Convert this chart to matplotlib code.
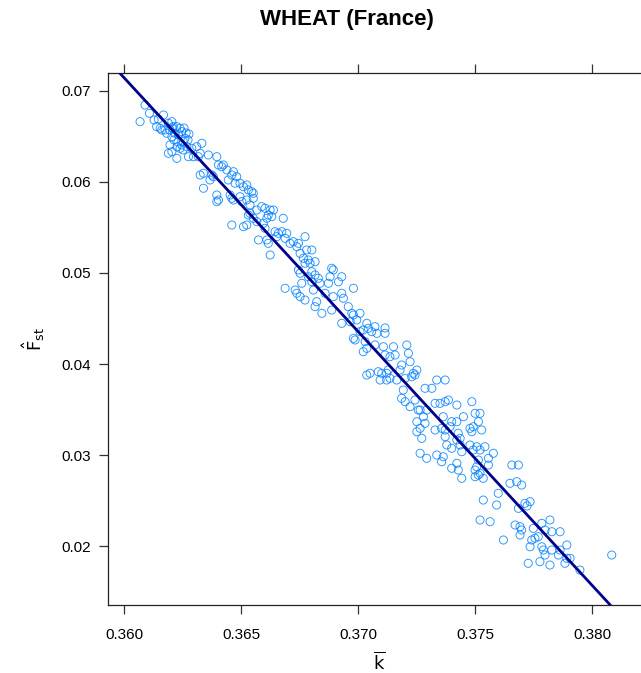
import matplotlib
matplotlib.use("Agg")
import matplotlib.pyplot as plt
import numpy as np

plt.rcParams['font.family'] = ['Liberation Sans', 'DejaVu Sans']

title = "WHEAT (France)"
x_label = r"$\overline{\mathrm{k}}$"
y_label = r"$\hat{\mathrm{F}}_{\mathrm{st}}$"

x_ticks = [0.360, 0.365, 0.370, 0.375, 0.380]
x_ticklabels = ["0.360", "0.365", "0.370", "0.375", "0.380"]
y_ticks = [0.02, 0.03, 0.04, 0.05, 0.06, 0.07]
y_ticklabels = ["0.02", "0.03", "0.04", "0.05", "0.06", "0.07"]

# fitted line F = a + b * k
line_intercept = 1.07517
line_slope = -2.7882

k_bar = [
    0.36088, 0.36067, 0.36107, 0.36127, 0.36145, 0.36167, 0.36138, 0.36153, 0.36160, 0.36188,
    0.36203, 0.36209, 0.36195, 0.36224, 0.36238, 0.36245, 0.36231, 0.36217, 0.36203, 0.36181,
    0.36174, 0.36195, 0.36203, 0.36188, 0.36224, 0.36238, 0.36252, 0.36259, 0.36245, 0.36267,
    0.36274, 0.36212, 0.36229, 0.36251, 0.36264, 0.36272, 0.36225, 0.36204, 0.36255, 0.36276,
    0.36288, 0.36309, 0.36331, 0.36324, 0.36316, 0.36295, 0.36359, 0.36395, 0.36402, 0.36416,
    0.36423, 0.36338, 0.36324, 0.36374, 0.36380, 0.36366, 0.36438, 0.36466, 0.36459, 0.36444,
    0.36480, 0.36494, 0.36473, 0.36509, 0.36523, 0.36530, 0.36338, 0.36395, 0.36402, 0.36395,
    0.36452, 0.36459, 0.36466, 0.36494, 0.36502, 0.36523, 0.36530, 0.36523, 0.36509, 0.36459,
    0.36544, 0.36551, 0.36551, 0.36537, 0.36537, 0.36566, 0.36587, 0.36601, 0.36623, 0.36637,
    0.36615, 0.36609, 0.36630, 0.36679, 0.36551, 0.36566, 0.36594, 0.36601, 0.36573, 0.36609,
    0.36615, 0.36623, 0.36644, 0.36658, 0.36673, 0.36694, 0.36651, 0.36687, 0.36708, 0.36722,
    0.36744, 0.36772, 0.36737, 0.36751, 0.36779, 0.36801, 0.36765, 0.36786, 0.36772, 0.36794,
    0.36815, 0.36744, 0.36751, 0.36801, 0.36786, 0.36815, 0.36829, 0.36886, 0.36893, 0.36879,
    0.36929, 0.36758, 0.36687, 0.36730, 0.36737, 0.36751, 0.36772, 0.36801, 0.36836, 0.36872,
    0.36915, 0.36808, 0.36858, 0.36893, 0.36929, 0.36936, 0.36822, 0.36815, 0.36844, 0.36886,
    0.36979, 0.36957, 0.36972, 0.36979, 0.37007, 0.36929, 0.36965, 0.36993, 0.37036, 0.37043,
    0.37007, 0.37021, 0.36979, 0.36986, 0.37029, 0.37036, 0.37021, 0.37036, 0.37071, 0.37114,
    0.37057, 0.37079, 0.37114, 0.37071, 0.37107, 0.37150, 0.37207, 0.37214, 0.37114, 0.37135,
    0.37157, 0.37221, 0.37085, 0.37100, 0.37121, 0.37128, 0.37093, 0.37121, 0.37185, 0.37178,
    0.37250, 0.37235, 0.37242, 0.37228, 0.37200, 0.37050, 0.37192, 0.37185, 0.37200, 0.37221,
    0.37242, 0.37256, 0.37250, 0.37264, 0.37250, 0.37164, 0.37135, 0.37335, 0.37371, 0.37285,
    0.37314, 0.37328, 0.37349, 0.37371, 0.37385, 0.37421, 0.37485, 0.37264, 0.37292, 0.37278,
    0.37285, 0.37271, 0.37328, 0.37363, 0.37356, 0.37371, 0.37392, 0.37399, 0.37421, 0.37427,
    0.37449, 0.37371, 0.37378, 0.37399, 0.37435, 0.37442, 0.37421, 0.37435, 0.37477, 0.37485,
    0.37491, 0.37499, 0.37513, 0.37477, 0.37491, 0.37506, 0.37513, 0.37506, 0.37499, 0.37513,
    0.37335, 0.37363, 0.37356, 0.37292, 0.37264, 0.37399, 0.37421, 0.37427, 0.37442, 0.37499,
    0.37541, 0.37520, 0.37577, 0.37556, 0.37556, 0.37520, 0.37534, 0.37656, 0.37684, 0.37648,
    0.37677, 0.37698, 0.37598, 0.37591, 0.37534, 0.37520, 0.37563, 0.37684, 0.37712, 0.37734,
    0.37721, 0.37784, 0.37819, 0.37670, 0.37691, 0.37698, 0.37691, 0.37748, 0.37798, 0.37827,
    0.37862, 0.37769, 0.37755, 0.37741, 0.37734, 0.37784, 0.37791, 0.37798, 0.37827, 0.37862,
    0.37891, 0.37855, 0.37891, 0.37905, 0.37726, 0.37776, 0.37819, 0.37883, 0.37947, 0.37620,
    0.38083, 0.37520, 0.37527,
]

f_st = [
    0.06846, 0.06663, 0.06755, 0.06681, 0.06692, 0.06736, 0.06608, 0.06590, 0.06571, 0.06645,
    0.06663, 0.06608, 0.06571, 0.06608, 0.06590, 0.06553, 0.06516, 0.06535, 0.06498, 0.06535,
    0.06571, 0.06407, 0.06333, 0.06315, 0.06260, 0.06370, 0.06443, 0.06480, 0.06407, 0.06388,
    0.06278, 0.06462, 0.06440, 0.06352, 0.06538, 0.06462, 0.06385, 0.06593, 0.06593, 0.06527,
    0.06370, 0.06388, 0.06425, 0.06315, 0.06278, 0.06278, 0.06297, 0.06278, 0.06187, 0.06168,
    0.06187, 0.06096, 0.06077, 0.06077, 0.06058, 0.06022, 0.06132, 0.06113, 0.06077, 0.06022,
    0.06058, 0.05986, 0.05986, 0.05948, 0.05967, 0.05912, 0.05931, 0.05857, 0.05802, 0.05784,
    0.05857, 0.05821, 0.05802, 0.05838, 0.05784, 0.05802, 0.05637, 0.05527, 0.05509, 0.05527,
    0.05893, 0.05876, 0.05821, 0.05747, 0.05656, 0.05692, 0.05729, 0.05711, 0.05692, 0.05692,
    0.05637, 0.05601, 0.05619, 0.05601, 0.05601, 0.05564, 0.05546, 0.05491, 0.05363, 0.05363,
    0.05326, 0.05198, 0.05454, 0.05436, 0.05454, 0.05436, 0.05399, 0.05381, 0.05326, 0.05344,
    0.05326, 0.05399, 0.05289, 0.05216, 0.05253, 0.05253, 0.05162, 0.05143, 0.05107, 0.05107,
    0.05124, 0.05033, 0.04997, 0.05014, 0.04959, 0.04978, 0.04942, 0.05052, 0.05033, 0.04959,
    0.04959, 0.04887, 0.04832, 0.04813, 0.04777, 0.04740, 0.04703, 0.04904, 0.04887, 0.04887,
    0.04904, 0.04813, 0.04777, 0.04740, 0.04777, 0.04722, 0.04685, 0.04630, 0.04557, 0.04593,
    0.04832, 0.04630, 0.04557, 0.04538, 0.04557, 0.04447, 0.04465, 0.04484, 0.04447, 0.04392,
    0.04355, 0.04374, 0.04282, 0.04264, 0.04245, 0.04172, 0.04135, 0.03879, 0.04410, 0.04396,
    0.04355, 0.04337, 0.04337, 0.04209, 0.04190, 0.04190, 0.04209, 0.04118, 0.04099, 0.04080,
    0.04099, 0.04025, 0.03915, 0.03898, 0.03898, 0.03934, 0.03824, 0.03824, 0.03989, 0.03934,
    0.03934, 0.03898, 0.03879, 0.03860, 0.03843, 0.03898, 0.03714, 0.03623, 0.03586, 0.03531,
    0.03604, 0.03494, 0.03366, 0.03293, 0.03256, 0.03824, 0.03843, 0.03824, 0.03824, 0.03733,
    0.03733, 0.03568, 0.03568, 0.03586, 0.03604, 0.03549, 0.03586, 0.03494, 0.03494, 0.03421,
    0.03348, 0.03183, 0.03275, 0.03421, 0.03293, 0.03275, 0.03311, 0.03366, 0.03366, 0.03239,
    0.03421, 0.03201, 0.03110, 0.03074, 0.03110, 0.03036, 0.03165, 0.03183, 0.03293, 0.03256,
    0.03311, 0.03458, 0.03366, 0.03110, 0.03055, 0.03091, 0.02945, 0.02871, 0.02835, 0.02780,
    0.03000, 0.02981, 0.02926, 0.02964, 0.03019, 0.02854, 0.02909, 0.02835, 0.02744, 0.02762,
    0.03091, 0.03055, 0.03019, 0.02964, 0.02890, 0.02799, 0.02744, 0.02890, 0.02890, 0.02689,
    0.02707, 0.02670, 0.02579, 0.02451, 0.02505, 0.02286, 0.02267, 0.02414, 0.02469, 0.02487,
    0.02440, 0.02249, 0.02286, 0.02231, 0.02212, 0.02176, 0.02121, 0.02194, 0.02176, 0.02157,
    0.02157, 0.02102, 0.02085, 0.02066, 0.01992, 0.01992, 0.01956, 0.01901, 0.01956, 0.01956,
    0.02011, 0.01901, 0.01865, 0.01865, 0.01810, 0.01828, 0.01791, 0.01810, 0.01736, 0.02066,
    0.01901, 0.03458, 0.03275,
]

x_limits = (0.35930, 0.38250)
y_limits = (0.013516, 0.07201)

fig = plt.figure(figsize=(6.41, 6.73), dpi=100)
ax = fig.add_axes([0.1685, 0.1010, 0.8468, 0.7910])

ax.scatter(k_bar, f_st, s=34, facecolors='none', edgecolors='#0080ff',
           linewidths=0.65, alpha=0.85, zorder=2)

xs = np.array(x_limits)
ax.plot(xs, line_intercept + line_slope * xs, color='#00008b', lw=2.0, zorder=3,
        solid_capstyle='butt')

ax.set_xlim(*x_limits)
ax.set_ylim(*y_limits)

ax.set_xticks(x_ticks)
ax.set_xticklabels(x_ticklabels)
ax.set_yticks(y_ticks)
ax.set_yticklabels(y_ticklabels)
ax.tick_params(axis='x', which='both', direction='out', length=6.5, width=0.9,
               color='#333333', labelsize=11, pad=10, top=True, labeltop=False)
ax.tick_params(axis='y', which='both', direction='out', length=6.5, width=0.9,
               color='#333333', labelsize=11, pad=6, right=False)
for sp in ax.spines.values():
    sp.set_linewidth(0.9)
    sp.set_color('#222222')

fig.text(347 / 641, 1 - 20 / 673, title, fontsize=16, fontweight='bold',
         ha='center', va='center')
ax.set_xlabel(x_label, fontsize=13, labelpad=7)
ax.set_ylabel(y_label, fontsize=13, labelpad=10)

fig.savefig("out.png", dpi=100)
